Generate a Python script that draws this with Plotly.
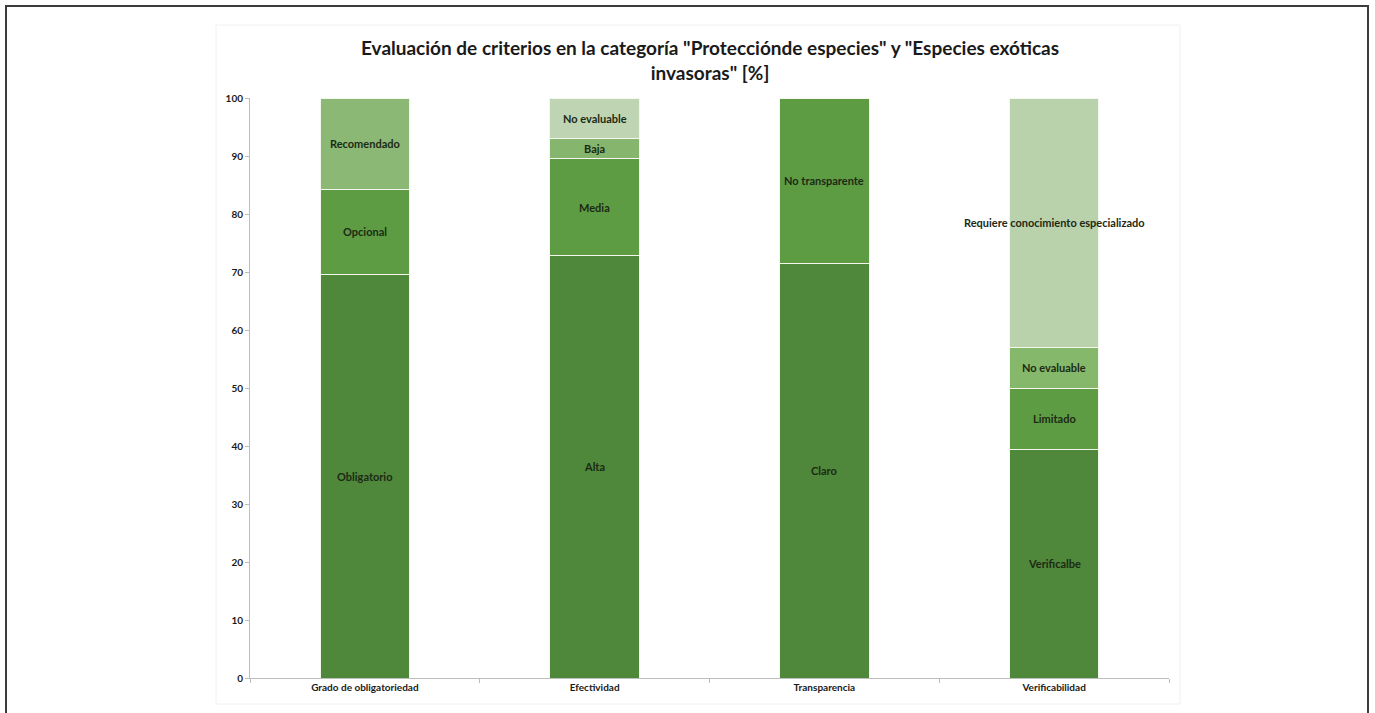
import plotly.graph_objects as go

# Criteria evaluated (x categories)
categories = ["Grado de obligatoriedad", "Efectividad", "Transparencia", "Verificabilidad"]

# Stacked segments per criterion, bottom to top (percent)
obligatoriedad_labels = ["Obligatorio", "Opcional", "Recomendado"]
obligatoriedad_values = [69.5, 14.8, 15.7]

efectividad_labels = ["Alta", "Media", "Baja", "No evaluable"]
efectividad_values = [72.8, 16.7, 3.6, 6.9]

transparencia_labels = ["Claro", "No transparente"]
transparencia_values = [71.4, 28.6]

verificabilidad_labels = ["Verificalbe", "Limitado", "No evaluable", "Requiere conocimiento especializado"]
verificabilidad_values = [39.4, 10.6, 7.0, 43.0]

y_ticks = [0, 10, 20, 30, 40, 50, 60, 70, 80, 90, 100]

title_text = 'Evaluación de criterios en la categoría "Protecciónde especies" y "Especies exóticas<br>invasoras" [%]'

# Segment fill colours per criterion
colors = {
    "Grado de obligatoriedad": ["#4f873b", "#5e9c43", "#8cb876"],
    "Efectividad": ["#4f873b", "#5e9c43", "#86b66d", "#bfd4b2"],
    "Transparencia": ["#4f873b", "#5e9c43"],
    "Verificabilidad": ["#4f873b", "#5e9c43", "#86b86b", "#bad2ac"],
}

stacks = [
    (categories[0], obligatoriedad_labels, obligatoriedad_values),
    (categories[1], efectividad_labels, efectividad_values),
    (categories[2], transparencia_labels, transparencia_values),
    (categories[3], verificabilidad_labels, verificabilidad_values),
]

W, H = 1375, 713
ML, MR, MT, MB = 250, 206, 98, 35
PW, PH = W - ML - MR, H - MT - MB


def px_x(px):
    return (px - ML) / PW


def px_y(py):
    return (H - MB - py) / PH


fig = go.Figure()
annotations = []
for cat, labels, values in stacks:
    base = 0.0
    for i, (lab, val) in enumerate(zip(labels, values)):
        fig.add_trace(go.Bar(
            x=[cat], y=[val], name=lab,
            marker=dict(color=colors[cat][i], line=dict(color="#f3f7ee", width=1)),
            width=0.39, showlegend=False, hoverinfo="x+y+name",
        ))
        annotations.append(dict(
            x=cat, y=base + val / 2, xref="x", yref="y", text=lab,
            showarrow=False, font=dict(family="Lato", size=11, color="#1c2a14", weight="bold"),
        ))
        base += val

# Chart title, two lines centred above the plot
annotations.append(dict(
    x=0.5, y=px_y(60), xref="paper", yref="paper", xanchor="center", yanchor="middle",
    text=title_text, showarrow=False, align="center",
    font=dict(family="Lato", size=19, color="#1a1a1a", weight="bold"),
))

shapes = [
    # faint chart-area outline
    dict(type="rect", xref="paper", yref="paper",
         x0=px_x(216), x1=px_x(1180), y0=px_y(704), y1=px_y(25),
         line=dict(color="#f0f0f0", width=1), layer="below"),
    # outer frame
    dict(type="rect", xref="paper", yref="paper",
         x0=px_x(6), x1=px_x(1368), y0=px_y(730), y1=px_y(6),
         line=dict(color="#3c3c3c", width=2)),
]

fig.update_layout(
    width=W, height=H,
    barmode="stack", bargap=0.61,
    margin=dict(l=ML, r=MR, t=MT, b=MB),
    paper_bgcolor="white", plot_bgcolor="white",
    xaxis=dict(
        type="category", categoryorder="array", categoryarray=categories,
        showline=True, linecolor="#bdbdbd", linewidth=1,
        ticks="outside", tickson="boundaries", ticklen=4, tickcolor="#bdbdbd",
        tickfont=dict(family="Lato", size=10, color="#1a1a1a", weight="bold"),
        showgrid=False, zeroline=False,
    ),
    yaxis=dict(
        range=[0, 100], tickvals=y_ticks,
        showline=True, linecolor="#bdbdbd", linewidth=1,
        ticks="outside", ticklen=4, tickcolor="#bdbdbd",
        tickfont=dict(family="Lato", size=10, color="#1a1a1a", weight="bold"),
        showgrid=False, zeroline=False,
    ),
    annotations=annotations,
    shapes=shapes,
)

fig.write_html("out.html")
